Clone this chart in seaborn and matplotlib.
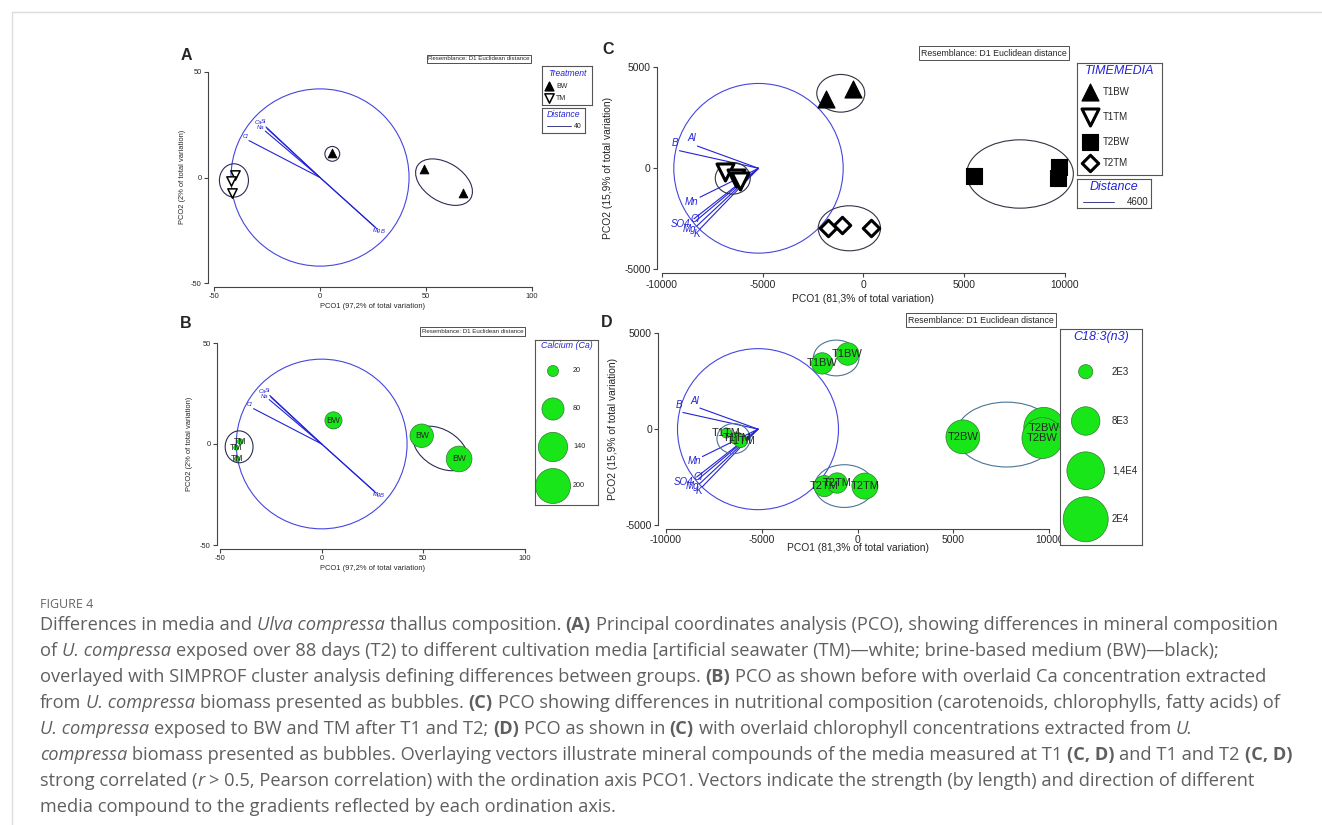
import numpy as np
import pandas as pd
import matplotlib
matplotlib.use('Agg')
import matplotlib.pyplot as plt
import seaborn as sns
from matplotlib.patches import Ellipse

W, H = 1322, 825

# ---- A / B : mineral composition, PCO scores (TM / BW) ----
ab_group = ['TM', 'TM', 'TM', 'BW', 'BW', 'BW']
ab_pco1 = [-40.0, -42.0, -41.5, 5.8, 49.2, 67.6]
ab_pco2 = [1.2, -1.8, -7.4, 11.7, 4.1, -7.4]
ab_calcium = [5, 4, 5, 48, 90, 108]
ab_vec_names = ['Cl', 'Ca', 'Si', 'Na', 'Mg', 'B']
ab_vec_x = [-33.5, -25.5, -25.0, -25.8, 26.0, 26.8]
ab_vec_y = [17.5, 24.0, 23.2, 22.0, -23.5, -24.3]
ab_lab_x = [-35.4, -29.0, -26.5, -28.0, 27.0, 29.5]
ab_lab_y = [19.6, 26.2, 26.6, 23.6, -25.2, -25.4]
ab_clusters = [(-40.6, -1.4, 13.7, 15.8, 0), (5.8, 11.2, 7.0, 7.0, 0),
               (58.5, -2.2, 29.5, 18.3, -32)]
ca_legend = [20, 80, 140, 200]

# ---- C / D : nutritional composition, PCO scores (time x media) ----
cd_group = ['T1BW', 'T1BW', 'T1TM', 'T1TM', 'T1TM', 'T2BW', 'T2BW', 'T2BW',
            'T2TM', 'T2TM', 'T2TM']
cd_pco1 = [-1850, -520, -6850, -6310, -6100, 5490, 9720, 9640, -1735, -1070, 380]
cd_pco2 = [3430, 3920, -200, -480, -620, -400, 85, -465, -2970, -2810, -2970]
cd_c183 = [4500, 5000, 1000, 1600, 1700, 11300, 16000, 16500, 4400, 4100, 6700]
cd_vec_names = ['B', 'Al', 'Mn', 'SO4', 'Cl', 'Mg', 'K']
cd_vec_x = [-9120, -8230, -8100, -8400, -8300, -8250, -8100]
cd_vec_y = [870, 1100, -1430, -2500, -2600, -2850, -3000]
cd_lab_x = [-9340, -8510, -8510, -9090, -8340, -8630, -8260]
cd_lab_y = [1240, 1480, -1650, -2770, -2520, -2990, -3250]
cd_clusters = [(-1120, 3713, 2380, 1865, 0), (-6476, -495, 1735, 1568, 0),
               (-694, -2970, 3090, 2228, 0), (7770, -282, 5290, 3383, 0)]
c183_legend = [2000, 8000, 14000, 20000]
c183_legend_labels = ['2E3', '8E3', '1,4E4', '2E4']

BLUE = '#2323d8'
LBLUE = '#4646e0'
GREEN = '#19e619'
sns.set_style('ticks')
plt.rcParams['font.family'] = ['Liberation Sans', 'DejaVu Sans']
plt.rcParams['axes.unicode_minus'] = False

fig = plt.figure(figsize=(W / 100, H / 100), dpi=100)


def fx(px):
    return px / W


def fy(py):
    return 1 - py / H


def pco_axes(l, t, r, b, xlim, ylim, ticks_x, ticks_y, off_l, off_b, fs):
    ax = fig.add_axes([fx(l), fy(b), (r - l) / W, (b - t) / H])
    ax.set_xlim(xlim)
    ax.set_ylim(ylim)
    ax.patch.set_alpha(0)
    sns.despine(ax=ax, offset=dict(left=off_l * 0.72, bottom=off_b * 0.72))
    ax.spines['left'].set_bounds(*ylim)
    ax.spines['bottom'].set_bounds(*xlim)
    for s in ['left', 'bottom']:
        ax.spines[s].set_color('#444')
        ax.spines[s].set_linewidth(0.8)
    ax.set_xticks(ticks_x)
    ax.set_yticks(ticks_y)
    ax.tick_params(length=3, width=0.8, color='#444', labelsize=fs, pad=1.5)
    return ax


def legend_box(l, t, r, b, lw=0.8):
    lg = fig.add_axes([fx(l), fy(b), (r - l) / W, (b - t) / H])
    lg.set_xlim(l, r)
    lg.set_ylim(b, t)
    lg.set_xticks([])
    lg.set_yticks([])
    lg.set_facecolor('white')
    for s in lg.spines.values():
        s.set_color('#555')
        s.set_linewidth(lw)
    return lg


def resemblance(x, y, fs):
    fig.text(fx(x), fy(y), 'Resemblance: D1 Euclidean distance', fontsize=fs,
             ha='center', va='center',
             bbox=dict(boxstyle='square,pad=0.25', fc='white', ec='#333', lw=0.6))


def draw_vectors(ax, ox, oy, vx, vy, names, lx, ly, fs):
    for x, y in zip(vx, vy):
        ax.plot([ox, x], [oy, y], color=BLUE, lw=0.8, zorder=2)
    for n, x, y in zip(names, lx, ly):
        ax.text(x, y, n, color=BLUE, fontsize=fs, style='italic',
                ha='center', va='center', zorder=3)


def draw_clusters(ax, clusters, color, lw):
    for cx, cy, w, h, ang in clusters:
        ax.add_patch(Ellipse((cx, cy), w, h, angle=ang, fill=False,
                             ec=color, lw=lw, zorder=4, clip_on=False))


ab = pd.DataFrame({'pco1': ab_pco1, 'pco2': ab_pco2, 'grp': ab_group, 'ca': ab_calcium})
cd = pd.DataFrame({'pco1': cd_pco1, 'pco2': cd_pco2, 'grp': cd_group, 'c183': cd_c183})

# ================= A =================
axA = pco_axes(214, 72, 532, 283, (-50, 100), (-50, 50), [-50, 0, 50, 100],
               [-50, 0, 50], 6, 4, 5.4)
axA.add_patch(Ellipse((0, 0), 84, 84, fill=False, ec=LBLUE, lw=0.8))
draw_vectors(axA, 0, 0, ab_vec_x, ab_vec_y, ab_vec_names, ab_lab_x, ab_lab_y, 4.2)
bw = ab[ab.grp == 'BW']
tm = ab[ab.grp == 'TM']
sns.scatterplot(data=bw, x='pco1', y='pco2', ax=axA, marker='^', s=40, color='black',
                edgecolor='black', linewidth=0.6, legend=False, zorder=5, clip_on=False)
sns.scatterplot(data=tm, x='pco1', y='pco2', ax=axA, marker='v', s=45, color='white',
                edgecolor='black', linewidth=1.1, legend=False, zorder=5, clip_on=False)
draw_clusters(axA, ab_clusters, '#2d2d55', 0.8)
axA.set_xlabel('')
axA.set_ylabel('')
fig.text(fx(373), fy(307), 'PCO1 (97,2% of total variation)', fontsize=5.4, ha='center', va='center')
fig.text(fx(182), fy(177), 'PCO2 (2% of total variation)', fontsize=5.4, ha='center',
         va='center', rotation=90)
fig.text(fx(186), fy(55), 'A', fontsize=11.5, weight='bold', ha='center', va='center')
resemblance(479, 59, 4.4)

lgA = legend_box(542, 66, 592, 105)
lgA.text(567, 73, 'Treatment', color=BLUE, style='italic', fontsize=6.2, ha='center', va='center')
lgA.scatter([549], [86], marker='^', s=40, c='black', clip_on=False)
lgA.scatter([549], [98], marker='v', s=45, c='white', edgecolors='black', linewidths=1.1)
lgA.text(556, 86, 'BW', fontsize=5, va='center')
lgA.text(556, 98, 'TM', fontsize=5, va='center')
lgA2 = legend_box(542, 108, 585, 133)
lgA2.text(563.5, 114.5, 'Distance', color=BLUE, style='italic', fontsize=6.2, ha='center', va='center')
lgA2.plot([547, 571], [126, 126], color='#3a3a8a', lw=0.7)
lgA2.text(582, 126, '40', fontsize=5, ha='right', va='center')

# ================= B =================
axB = pco_axes(220, 343, 525, 545, (-50, 100), (-50, 50), [-50, 0, 50, 100],
               [-50, 0, 50], 3, 4, 5.4)
axB.add_patch(Ellipse((0, 0), 84, 84, fill=False, ec=LBLUE, lw=0.8))
draw_vectors(axB, 0, 0, ab_vec_x, ab_vec_y, ab_vec_names, ab_lab_x, ab_lab_y, 4.2)
sns.scatterplot(data=ab, x='pco1', y='pco2', ax=axB, size='ca', sizes=(0, 635),
                size_norm=(0, 200), color=GREEN, edgecolor='#2f7a2f', linewidth=0.5,
                legend=False, zorder=5, clip_on=False)
for _, row in ab.iterrows():
    axB.text(row.pco1, row.pco2, row.grp, fontsize=6.2, ha='center', va='center', zorder=6)
draw_clusters(axB, ab_clusters, '#2d2d55', 0.8)
axB.set_xlabel('')
axB.set_ylabel('')
fig.text(fx(372.5), fy(569), 'PCO1 (97,2% of total variation)', fontsize=5.4, ha='center', va='center')
fig.text(fx(190), fy(444), 'PCO2 (2% of total variation)', fontsize=5.4, ha='center',
         va='center', rotation=90)
fig.text(fx(186), fy(323), 'B', fontsize=11.5, weight='bold', ha='center', va='center')
resemblance(472.5, 331.5, 4.4)

lgB = legend_box(535, 340, 598, 505)
lgB.text(566.5, 345.5, 'Calcium (Ca)', color=BLUE, style='italic', fontsize=6.4,
         ha='center', va='center')
leg_ca = pd.DataFrame({'x': [553] * 4, 'y': [371, 409, 447, 486], 'v': ca_legend})
sns.scatterplot(data=leg_ca, x='x', y='y', ax=lgB, size='v', sizes=(0, 635), size_norm=(0, 200),
                color=GREEN, edgecolor='#2f7a2f', linewidth=0.5, legend=False)
for yy, v in zip(leg_ca.y, ca_legend):
    lgB.text(573, yy, str(v), fontsize=5.2, va='center')
lgB.set_xlabel('')
lgB.set_ylabel('')

# ================= C =================
axC = pco_axes(661.7, 67.3, 1065, 269.3, (-10000, 10000), (-5000, 5000),
               [-10000, -5000, 0, 5000, 10000], [-5000, 0, 5000], 5, 4, 7.4)
axC.add_patch(Ellipse((-5200, 0), 8400, 8400, fill=False, ec=LBLUE, lw=0.8))
draw_vectors(axC, -5200, 0, cd_vec_x, cd_vec_y, cd_vec_names, cd_lab_x, cd_lab_y, 7)
styles = {'T1BW': ('^', 150, 'black', 0.8), 'T1TM': ('v', 150, 'white', 2.2),
          'T2BW': ('s', 130, 'black', 0.8), 'T2TM': ('D', 70, 'white', 2.2)}
for g, (mk, ss, fc, lw) in styles.items():
    sns.scatterplot(data=cd[cd.grp == g], x='pco1', y='pco2', ax=axC, marker=mk, s=ss,
                    color=fc, edgecolor='black', linewidth=lw, legend=False, zorder=5,
                    clip_on=False)
draw_clusters(axC, cd_clusters, '#333344', 0.8)
axC.set_xlabel('')
axC.set_ylabel('')
fig.text(fx(863.3), fy(298.5), 'PCO1 (81,3% of total variation)', fontsize=7.4, ha='center', va='center')
fig.text(fx(608), fy(168.3), 'PCO2 (15,9% of total variation)', fontsize=7.4, ha='center',
         va='center', rotation=90)
fig.text(fx(608), fy(50), 'C', fontsize=11.5, weight='bold', ha='center', va='center')
resemblance(994, 53, 6.3)

lgC = legend_box(1077, 63, 1162, 175)
lgC.text(1119.5, 71, 'TIMEMEDIA', color=BLUE, style='italic', fontsize=9, ha='center', va='center')
for yy, (g, (mk, ss, fc, lw)) in zip([92, 117, 142, 163], styles.items()):
    lgC.scatter([1089.5], [yy], marker=mk, s=ss, c=fc, edgecolors='black', linewidths=lw,
                clip_on=False)
    lgC.text(1103, yy, g, fontsize=7, va='center')
lgC2 = legend_box(1077, 179, 1151, 208)
lgC2.text(1114, 187, 'Distance', color=BLUE, style='italic', fontsize=9, ha='center', va='center')
lgC2.plot([1083, 1114], [201.5, 201.5], color='#3a3a8a', lw=0.7)
lgC2.text(1148, 201.5, '4600', fontsize=7, ha='right', va='center')

# ================= D =================
axD = pco_axes(666, 333.3, 1049.3, 525, (-10000, 10000), (-5000, 5000),
               [-10000, -5000, 0, 5000, 10000], [-5000, 0, 5000], 7.7, 4, 7.4)
axD.add_patch(Ellipse((-5200, 0), 8400, 8400, fill=False, ec=LBLUE, lw=0.8))
draw_vectors(axD, -5200, 0, cd_vec_x, cd_vec_y, cd_vec_names, cd_lab_x, cd_lab_y, 7)
sns.scatterplot(data=cd, x='pco1', y='pco2', ax=axD, size='c183', sizes=(0, 1050),
                size_norm=(0, 20000), color=GREEN, edgecolor='#2f7a2f', linewidth=0.5,
                legend=False, zorder=5, clip_on=False)
for _, row in cd.iterrows():
    axD.text(row.pco1, row.pco2, row.grp, fontsize=8, ha='center', va='center', zorder=6)
draw_clusters(axD, cd_clusters, '#4a7595', 0.8)
axD.set_xlabel('')
axD.set_ylabel('')
fig.text(fx(857.7), fy(548), 'PCO1 (81,3% of total variation)', fontsize=7.4, ha='center', va='center')
fig.text(fx(613), fy(429), 'PCO2 (15,9% of total variation)', fontsize=7.4, ha='center',
         va='center', rotation=90)
fig.text(fx(607), fy(322), 'D', fontsize=11.5, weight='bold', ha='center', va='center')
resemblance(981, 320, 6.3)

lgD = legend_box(1060, 329, 1142, 545)
lgD.text(1101, 337, 'C18:3(n3)', color=BLUE, style='italic', fontsize=9, ha='center', va='center')
leg_c = pd.DataFrame({'x': [1085.7] * 4, 'y': [371.7, 421, 470.7, 519.3], 'v': c183_legend})
sns.scatterplot(data=leg_c, x='x', y='y', ax=lgD, size='v', sizes=(0, 1050),
                size_norm=(0, 20000), color=GREEN, edgecolor='#2f7a2f', linewidth=0.5,
                legend=False)
for yy, lab in zip(leg_c.y, c183_legend_labels):
    lgD.text(1112, yy, lab, fontsize=7, va='center')
lgD.set_xlabel('')
lgD.set_ylabel('')

# ================= frame + caption =================
fig.add_artist(plt.Line2D([fx(12), 1], [fy(12), fy(12)], color='#dddddd', lw=1))
fig.add_artist(plt.Line2D([fx(12), fx(12)], [fy(12), 0], color='#dddddd', lw=1))

CAP = '#5f5f5f'
CFONT = ['Open Sans', 'DejaVu Sans']
fig.text(fx(40), fy(608), 'FIGURE 4', fontsize=9, color='#666666', family=CFONT, va='baseline')

caption = [
    [('Differences in media and ', ''), ('Ulva compressa', 'i'),
     (' thallus composition. ', ''), ('(A)', 'b'),
     (' Principal coordinates analysis (PCO), showing differences in mineral composition', '')],
    [('of ', ''), ('U. compressa', 'i'),
     (' exposed over 88 days (T2) to different cultivation media [artificial seawater (TM)\u2014white; brine-based medium (BW)\u2014black);', '')],
    [('overlayed with SIMPROF cluster analysis defining differences between groups. ', ''),
     ('(B)', 'b'), (' PCO as shown before with overlaid Ca concentration extracted', '')],
    [('from ', ''), ('U. compressa', 'i'), (' biomass presented as bubbles. ', ''), ('(C)', 'b'),
     (' PCO showing differences in nutritional composition (carotenoids, chlorophylls, fatty acids) of', '')],
    [('U. compressa', 'i'), (' exposed to BW and TM after T1 and T2; ', ''), ('(D)', 'b'),
     (' PCO as shown in ', ''), ('(C)', 'b'),
     (' with overlaid chlorophyll concentrations extracted from ', ''), ('U.', 'i')],
    [('compressa', 'i'),
     (' biomass presented as bubbles. Overlaying vectors illustrate mineral compounds of the media measured at T1 ', ''),
     ('(C, D)', 'b'), (' and T1 and T2 ', ''), ('(C, D)', 'b')],
    [('strong correlated (', ''), ('r', 'i'),
     (' > 0.5, Pearson correlation) with the ordination axis PCO1. Vectors indicate the strength (by length) and direction of different', '')],
    [('media compound to the gradients reflected by each ordination axis.', '')],
]

renderer = fig.canvas.get_renderer()


def text_width(s, size, st):
    t = fig.text(0, 0, s, fontsize=size, family=CFONT,
                 style='italic' if 'i' in st else 'normal',
                 weight='bold' if 'b' in st else 'normal')
    w = t.get_window_extent(renderer).width
    t.remove()
    return w


def line_width(parts, size):
    sp = text_width('a a', size, '') - text_width('aa', size, '')
    total = 0
    for s, st in parts:
        core = s.strip()
        total += (len(s) - len(s.lstrip())) * sp + (len(s) - len(s.rstrip())) * sp
        if core:
            total += text_width(core, size, st)
    return total, sp


# pick the caption size so that the first line spans like the original
base = 11
w0, _ = line_width(caption[0], base)
cap_size = base * 1242 / w0

for i, parts in enumerate(caption):
    _, sp = line_width(parts, cap_size)
    x = 40
    yb = 630 + 26 * i
    for s, st in parts:
        x += (len(s) - len(s.lstrip())) * sp
        core = s.strip()
        if core:
            t = fig.text(fx(x), fy(yb), core, fontsize=cap_size, color=CAP, family=CFONT,
                         style='italic' if 'i' in st else 'normal',
                         weight='bold' if 'b' in st else 'normal', va='baseline')
            x += t.get_window_extent(renderer).width
        x += (len(s) - len(s.rstrip())) * sp

fig.savefig('out.png', dpi=100)
